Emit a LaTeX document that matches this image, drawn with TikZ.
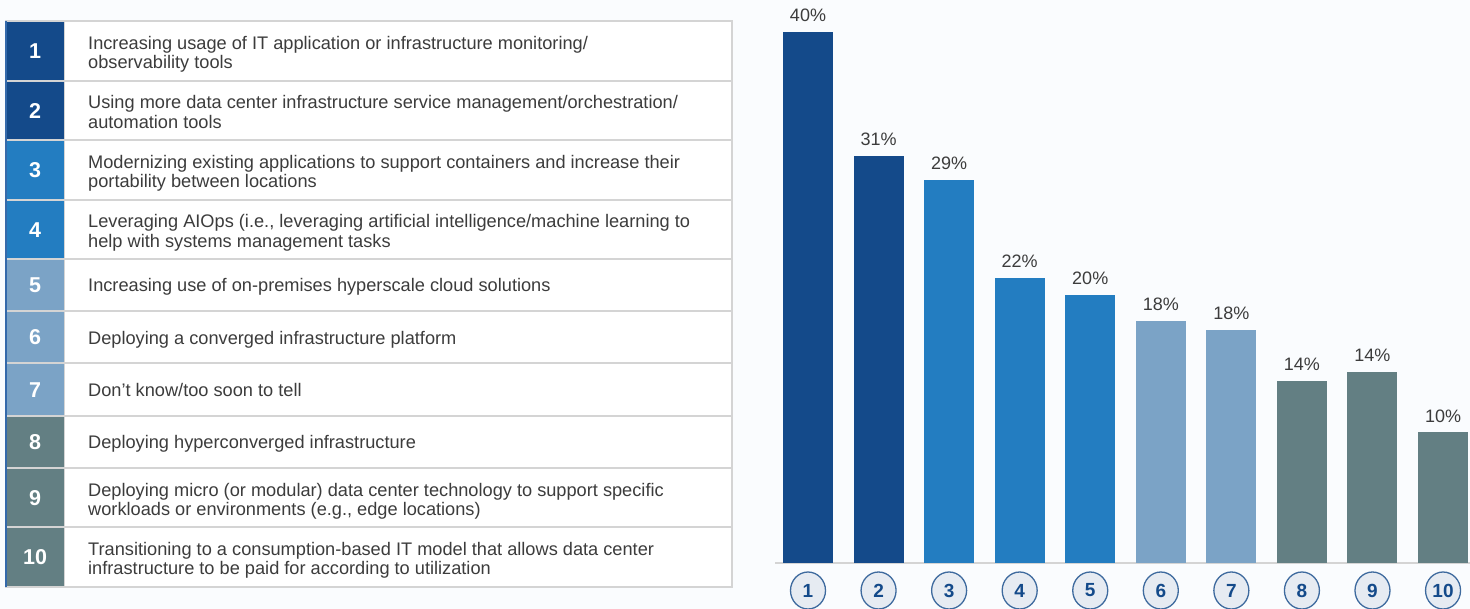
\documentclass[tikz,border=0pt]{standalone}
\usepackage{fontspec}
\setmainfont{Liberation Sans}
\definecolor{bgc}{RGB}{250,252,254}
\definecolor{cdark}{RGB}{20,74,138}
\definecolor{cmid}{RGB}{35,125,193}
\definecolor{clight}{RGB}{123,163,198}
\definecolor{cgray}{RGB}{99,127,131}
\definecolor{txt}{RGB}{60,60,60}
\definecolor{gridc}{RGB}{212,212,212}
\definecolor{circfill}{RGB}{230,235,242}
\definecolor{circline}{RGB}{62,106,158}
\definecolor{edgeblue}{RGB}{52,105,170}
\tikzset{
  rowtext/.style={anchor=base west, align=left, text=txt, inner sep=0pt, font=\fontsize{18.2}{19.2}\selectfont},
  numcell/.style={anchor=north west, inner sep=0pt, minimum width=58pt, text=white, font=\fontsize{21.5}{24}\selectfont\bfseries},
  bar/.style={anchor=south, inner sep=0pt, minimum width=50pt},
  pct/.style={anchor=base, text=txt, inner sep=0pt, font=\fontsize{18}{20}\selectfont},
  circ/.style={ellipse, draw=circline, line width=1.3pt, fill=circfill, minimum width=35pt, minimum height=37pt, inner sep=0pt, text=cdark, font=\fontsize{19}{20}\selectfont\bfseries},
  sep/.style={draw=gridc, line width=1.5pt}
}
\usetikzlibrary{shapes.geometric}
\begin{document}
\begin{tikzpicture}[x=1pt, y=-1pt]
\fill[bgc] (0,0) rectangle (1470,609);
\useasboundingbox (0,0) rectangle (1470,609);
% table frame
\fill[white] (6,21) rectangle (732,587);
% number cells
\def\rows{21/81/cdark/1, 81/140/cdark/2, 140/200/cmid/3, 200/259/cmid/4, 259/311/clight/5, 311/363/clight/6, 363/416/clight/7, 416/468/cgray/8, 468/527/cgray/9, 527/587/cgray/10}
\foreach \ta/\tb/\cc/\nn in \rows {
  \node[numcell, fill=\cc, minimum height={\tb-\ta}] (n\nn) at (6,\ta) {\nn};
}
% separators
\foreach \yy in {81,140,200,259,311,363,416,468,527} {
  \draw[sep] (6,\yy) -- (732,\yy);
}
\draw[sep] (6,21) rectangle (732,587);
\draw[sep, line width=1pt] (64,21) -- (64,587);
\draw[edgeblue, line width=1.5pt] (6,21) -- (6,587);
% row texts (baseline of last line)
\node[rowtext] (t1) at (88,68.7) {Increasing usage of IT application or infrastructure monitoring/\\observability tools};
\node[rowtext] (t2) at (88,128.2) {Using more data center infrastructure service management/orchestration/\\automation tools};
\node[rowtext] (t3) at (88,187.7) {Modernizing existing applications to support containers and increase their\\portability between locations};
\node[rowtext] (t4) at (88,247.2) {Leveraging AIOps (i.e., leveraging artificial intelligence/machine learning to\\help with systems management tasks};
\node[rowtext] (t5) at (88,292) {Increasing use of on-premises hyperscale cloud solutions};
\node[rowtext] (t6) at (88,344.5) {Deploying a converged infrastructure platform};
\node[rowtext] (t7) at (88,396.5) {Don’t know/too soon to tell};
\node[rowtext] (t8) at (88,449) {Deploying hyperconverged infrastructure};
\node[rowtext] (t9) at (88,515.2) {Deploying micro (or modular) data center technology to support specific\\workloads or environments (e.g., edge locations)};
\node[rowtext] (t10) at (88,574.2) {Transitioning to a consumption-based IT model that allows data center\\infrastructure to be paid for according to utilization};
% chart baseline
\draw[gridc, line width=1.2pt] (775,563) -- (1470,563);
% bars
\foreach \i/\top/\cc/\lab in {1/32/cdark/40\%, 2/156/cdark/31\%, 3/180/cmid/29\%, 4/278/cmid/22\%, 5/295/cmid/20\%, 6/321/clight/18\%, 7/330/clight/18\%, 8/381/cgray/14\%, 9/372/cgray/14\%, 10/432/cgray/10\%} {
  \pgfmathsetmacro{\xc}{808+70.56*(\i-1)}
  \node[bar, fill=\cc, minimum height={563-\top}] (b\i) at (\xc,563) {};
  \node[pct] (p\i) at (\xc,\top-10) {\lab};
  \node[circ] (c\i) at (\xc,590.5) {\i};
}
\end{tikzpicture}
\end{document}
